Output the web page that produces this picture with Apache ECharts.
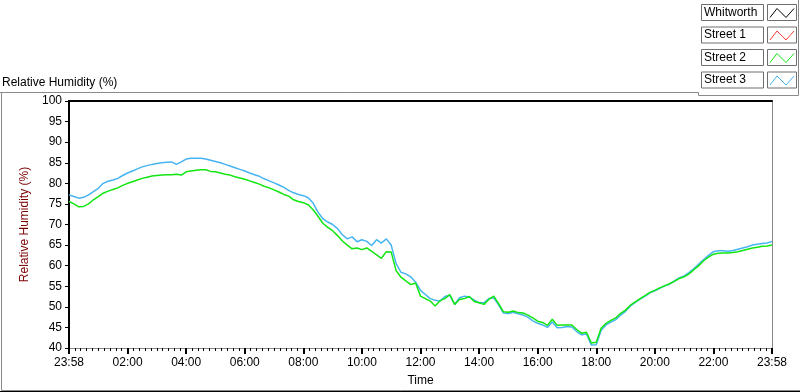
<!DOCTYPE html>
<html>
<head>
<meta charset="utf-8">
<script src="https://cdn.jsdelivr.net/npm/echarts@6/dist/echarts.min.js"></script>
<style>
  html, body { margin: 0; padding: 0; background: #fff; }
  #chart { width: 800px; height: 392px; }
</style>
</head>
<body>
<div id="chart"></div>
<script>
// 图例名称与颜色
var legendNames = ['Whitworth', 'Street 1', 'Street 2', 'Street 3']
var legendColors = ['#000000', '#ff3b3b', '#11e611', '#46b4f0']

// x 轴：从 23:58 起算的分钟数，每 10 分钟一个采样点；主刻度每 120 分钟
var stepMinutes = 10
var tickLabels = ['23:58', '02:00', '04:00', '06:00', '08:00', '10:00', '12:00',
  '14:00', '16:00', '18:00', '20:00', '22:00', '23:58']

// Street 2 (绿色)
var street2 = [
  75.6, 75.0, 74.3, 74.4, 75.0, 76.0, 76.8, 77.6, 78.1, 78.5,
  78.9, 79.5, 80.0, 80.4, 80.8, 81.2, 81.5, 81.8, 81.9, 82.0,
  82.1, 82.1, 82.2, 82.0, 82.8, 83.0, 83.2, 83.3, 83.3, 82.9,
  82.8, 82.5, 82.2, 82.0, 81.6, 81.3, 81.0, 80.6, 80.2, 79.8,
  79.3, 78.9, 78.4, 77.9, 77.3, 76.9, 76.0, 75.6, 75.3, 74.8,
  73.6, 72.0, 70.3, 69.3, 68.5, 67.3, 66.0, 65.0, 64.1, 64.3,
  63.9, 64.3, 63.5, 62.6, 61.8, 63.4, 63.3, 58.8, 57.2, 56.3,
  55.4, 55.8, 52.6, 52.0, 51.4, 50.2, 51.5, 52.0, 53.0, 50.6,
  51.8, 52.0, 52.5, 51.3, 51.0, 50.6, 51.8, 52.6, 50.8, 48.8,
  48.7, 49.0, 48.6, 48.5, 48.0, 47.3, 46.5, 46.2, 45.5, 47.0,
  45.5, 45.6, 45.6, 45.6, 44.5, 43.6, 43.8, 41.2, 41.4, 44.8,
  46.0, 46.7, 47.3, 48.4, 49.2, 50.4, 51.2, 52.0, 52.7, 53.5,
  54.0, 54.6, 55.1, 55.6, 56.2, 56.9, 57.3, 58.0, 59.0, 60.0,
  61.2, 62.1, 62.8, 63.0, 63.1, 63.1, 63.2, 63.4, 63.7, 64.0,
  64.3, 64.5, 64.7, 64.8, 65.0
]

// Street 3 (蓝色)
var street3 = [
  77.2, 76.8, 76.4, 76.6, 77.2, 78.0, 78.8, 80.0, 80.5, 80.8,
  81.2, 81.9, 82.5, 83.0, 83.5, 84.0, 84.3, 84.6, 84.8, 85.0,
  85.1, 85.2, 84.6, 85.2, 85.9, 86.1, 86.1, 86.1, 85.9, 85.6,
  85.3, 85.0, 84.6, 84.2, 83.8, 83.4, 83.0, 82.5, 82.1, 81.7,
  81.1, 80.6, 80.1, 79.6, 79.0, 78.3, 77.7, 77.3, 77.0, 76.5,
  75.2, 73.0, 71.4, 70.6, 70.0, 69.0, 67.5, 66.5, 67.0, 65.8,
  66.3, 65.9, 64.9, 66.3, 65.5, 66.5, 65.0, 60.5, 58.4, 58.0,
  57.3, 56.0, 54.0, 53.0, 52.0, 51.6, 51.4, 52.5, 52.8, 50.6,
  52.2, 52.6, 52.4, 51.6, 51.0, 51.0, 52.0, 52.2, 50.5, 48.5,
  48.4, 48.7, 48.3, 48.0, 47.5, 46.6, 46.0, 45.6, 45.0, 46.3,
  44.9, 45.0, 45.2, 45.1, 44.0, 43.2, 43.4, 40.7, 40.8, 44.3,
  45.6, 46.3, 46.9, 48.0, 48.9, 50.2, 51.1, 51.9, 52.6, 53.4,
  53.9, 54.5, 55.1, 55.5, 56.3, 57.0, 57.5, 58.3, 59.3, 60.4,
  61.5, 62.5, 63.4, 63.6, 63.6, 63.5, 63.7, 64.0, 64.3, 64.6,
  65.0, 65.2, 65.4, 65.5, 65.9
]

var FONT = 'Liberation Sans'

function toPairs(arr) {
  return arr.map(function (v, i) { return [i * stepMinutes, v] })
}

// 图例（LabVIEW 风格的方框）
function buildLegend() {
  var els = []
  var rowTop = [4.5, 27, 49.5, 72]
  legendNames.forEach(function (name, i) {
    var y = rowTop[i]
    els.push({
      type: 'rect', shape: { x: 701.5, y: y, width: 62, height: 16 },
      style: { fill: '#fff', stroke: '#6e6e6e', lineWidth: 1 }
    })
    els.push({
      type: 'text', x: 704, y: y + 8,
      style: { text: name, fill: '#000', font: '12px ' + FONT, verticalAlign: 'middle' }
    })
    els.push({
      type: 'rect', shape: { x: 767.5, y: y, width: 29, height: 16 },
      style: { fill: '#fff', stroke: '#6e6e6e', lineWidth: 1 }
    })
    els.push({
      type: 'polyline',
      shape: { points: [[770, y + 13], [777, y + 4], [786, y + 13], [794, y + 4]] },
      style: { stroke: legendColors[i], lineWidth: 1, fill: null }
    })
  })
  return els
}

var chart = echarts.init(document.getElementById('chart'))

chart.setOption({
  animation: false,
  backgroundColor: '#fff',
  textStyle: { fontFamily: FONT },
  grid: { left: 69, right: 28, top: 101, bottom: 39 },
  graphic: [
    {
      type: 'text', left: 2, top: 77,
      style: { text: 'Relative Humidity (%)', fill: '#000', font: '12px ' + FONT }
    },
    {
      type: 'polyline',
      shape: { points: [[0, 92.5], [698.5, 92.5], [698.5, 95.5], [798.5, 95.5], [798.5, 0]] },
      style: { stroke: '#8a8a8a', lineWidth: 1, fill: null }
    },
    {
      type: 'polyline',
      shape: { points: [[1.5, 92.5], [1.5, 390.5], [800, 390.5]] },
      style: { stroke: '#8a8a8a', lineWidth: 1, fill: null }
    },
    {
      type: 'line', shape: { x1: 0, y1: 391.5, x2: 800, y2: 391.5 },
      style: { stroke: '#000', lineWidth: 1 }
    }
  ].concat(buildLegend()),
  xAxis: [
    {
      type: 'value', min: 0, max: 1440, interval: 120, position: 'bottom',
      name: 'Time', nameLocation: 'middle', nameGap: 27,
      nameTextStyle: { color: '#000', fontSize: 12, fontFamily: FONT },
      axisLine: { onZero: false, lineStyle: { color: '#8a8a8a', width: 1 } },
      axisTick: { show: true, length: 6, lineStyle: { color: '#000', width: 2 } },
      minorTick: { show: true, splitNumber: 10, length: 3, lineStyle: { color: '#000', width: 1 } },
      axisLabel: {
        color: '#000', fontSize: 12, fontFamily: FONT, margin: 9,
        showMinLabel: true, showMaxLabel: true,
        formatter: function (v) { return tickLabels[Math.round(v / 120)] }
      },
      splitLine: { show: false }
    },
    {
      // 顶部黑色边框
      type: 'value', min: 0, max: 1440, position: 'top',
      axisLine: { show: true, onZero: false, lineStyle: { color: '#000', width: 2 } },
      axisTick: { show: false }, axisLabel: { show: false }, splitLine: { show: false }
    }
  ],
  yAxis: [
    {
      type: 'value', min: 40, max: 100, interval: 5, position: 'left',
      name: 'Relative Humidity (%)', nameLocation: 'middle', nameGap: 23, nameRotate: 90,
      nameTextStyle: { color: '#7a0000', fontSize: 12, fontFamily: FONT },
      axisLine: { show: true, onZero: false, lineStyle: { color: '#000', width: 2 } },
      axisTick: { show: true, length: 4, lineStyle: { color: '#000', width: 1 } },
      axisLabel: { color: '#000', fontSize: 12, fontFamily: FONT, margin: 7 },
      splitLine: { show: false }
    },
    {
      // 右侧灰色边框
      type: 'value', min: 40, max: 100, position: 'right',
      axisLine: { show: true, onZero: false, lineStyle: { color: '#8a8a8a', width: 1 } },
      axisTick: { show: false }, axisLabel: { show: false }, splitLine: { show: false }
    }
  ],
  series: [
    {
      name: 'Street 3', type: 'line', xAxisIndex: 0, yAxisIndex: 0,
      data: toPairs(street3), showSymbol: false, silent: true,
      lineStyle: { color: legendColors[3], width: 1.5 }
    },
    {
      name: 'Street 2', type: 'line', xAxisIndex: 0, yAxisIndex: 0,
      data: toPairs(street2), showSymbol: false, silent: true,
      lineStyle: { color: legendColors[2], width: 1.5 }
    }
  ]
})
</script>
</body>
</html>
